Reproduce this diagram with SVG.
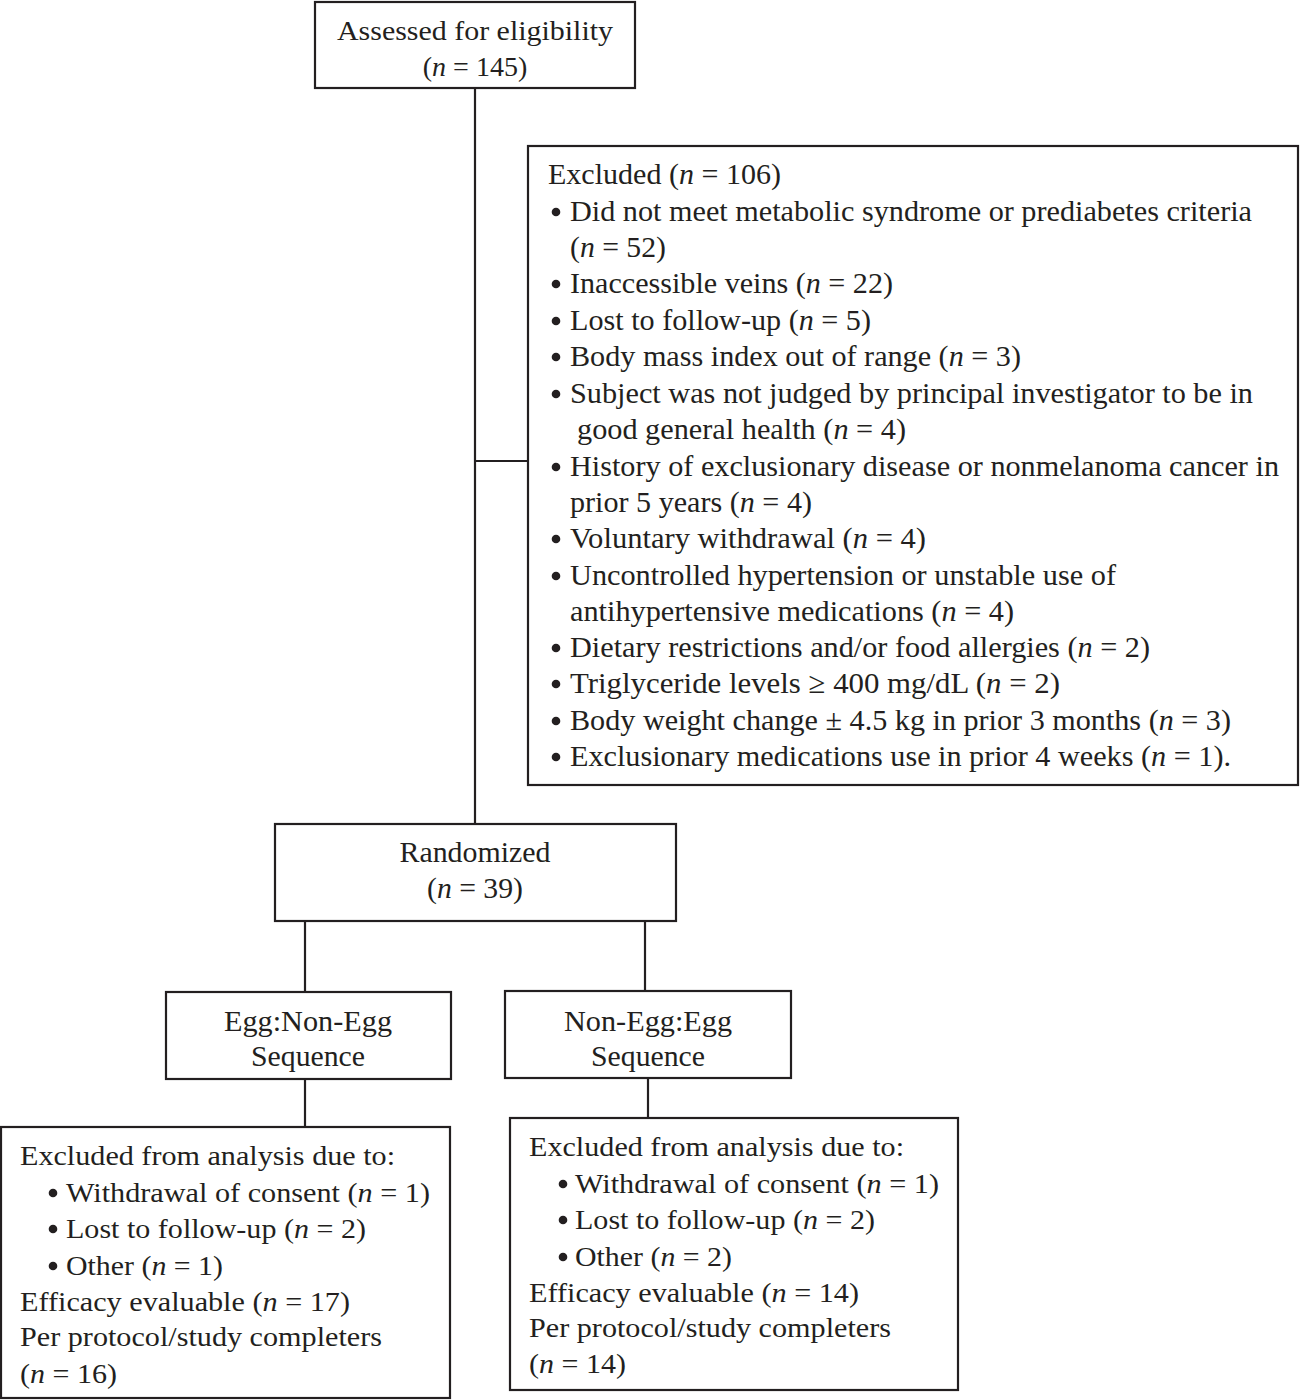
<svg xmlns="http://www.w3.org/2000/svg" width="1300" height="1400" viewBox="0 0 1300 1400" font-family="'Liberation Serif', 'Times New Roman', serif">
<style>
.box{fill:#fff;stroke:#231f20;stroke-width:2.2}
.ln{stroke:#231f20;stroke-width:2.2;fill:none}
.b{fill:#231f20}
text{font-family:"Liberation Serif","Times New Roman",serif;fill:#231f20;font-size:28px}
.c{font-size:30px}
.m{text-anchor:middle}
.i{font-style:italic}
</style>
<rect width="1300" height="1400" fill="#fff"/>
<g id="connectors">
<path class="ln" d="M475 88V824"/>
<path class="ln" d="M475 461H528"/>
<path class="ln" d="M305 921V992"/>
<path class="ln" d="M645 921V991"/>
<path class="ln" d="M305 1079V1127"/>
<path class="ln" d="M648 1078V1118"/>
</g>
<g id="assessed">
<rect class="box" x="315" y="2" width="320" height="86"/>
<text class="m" x="475" y="40" textLength="276" lengthAdjust="spacingAndGlyphs">Assessed for eligibility</text>
<text class="m" x="475" y="76">(<tspan class="i">n</tspan> = 145)</text>
</g>
<g id="excluded">
<rect class="box" x="528" y="146" width="770" height="639"/>
<text class="c" x="548" y="184" textLength="233" lengthAdjust="spacingAndGlyphs">Excluded (<tspan class="i">n</tspan> = 106)</text>
<g class="b">
<circle cx="556" cy="212" r="4.3"/>
<circle cx="556" cy="284" r="4.3"/>
<circle cx="556" cy="321" r="4.3"/>
<circle cx="556" cy="357" r="4.3"/>
<circle cx="556" cy="394" r="4.3"/>
<circle cx="556" cy="467" r="4.3"/>
<circle cx="556" cy="539" r="4.3"/>
<circle cx="556" cy="576" r="4.3"/>
<circle cx="556" cy="648" r="4.3"/>
<circle cx="556" cy="684" r="4.3"/>
<circle cx="556" cy="721" r="4.3"/>
<circle cx="556" cy="757" r="4.3"/>
</g>
<text class="c" x="570" y="221" textLength="682" lengthAdjust="spacingAndGlyphs">Did not meet metabolic syndrome or prediabetes criteria</text>
<text class="c" x="570" y="257" textLength="96" lengthAdjust="spacingAndGlyphs">(<tspan class="i">n</tspan> = 52)</text>
<text class="c" x="570" y="293" textLength="323" lengthAdjust="spacingAndGlyphs">Inaccessible veins (<tspan class="i">n</tspan> = 22)</text>
<text class="c" x="570" y="330" textLength="301" lengthAdjust="spacingAndGlyphs">Lost to follow-up (<tspan class="i">n</tspan> = 5)</text>
<text class="c" x="570" y="366" textLength="451" lengthAdjust="spacingAndGlyphs">Body mass index out of range (<tspan class="i">n</tspan> = 3)</text>
<text class="c" x="570" y="403" textLength="683" lengthAdjust="spacingAndGlyphs">Subject was not judged by principal investigator to be in</text>
<text class="c" x="577" y="439" textLength="329" lengthAdjust="spacingAndGlyphs">good general health (<tspan class="i">n</tspan> = 4)</text>
<text class="c" x="570" y="476" textLength="709" lengthAdjust="spacingAndGlyphs">History of exclusionary disease or nonmelanoma cancer in</text>
<text class="c" x="570" y="512" textLength="242" lengthAdjust="spacingAndGlyphs">prior 5 years (<tspan class="i">n</tspan> = 4)</text>
<text class="c" x="570" y="548" textLength="356" lengthAdjust="spacingAndGlyphs">Voluntary withdrawal (<tspan class="i">n</tspan> = 4)</text>
<text class="c" x="570" y="585" textLength="546" lengthAdjust="spacingAndGlyphs">Uncontrolled hypertension or unstable use of</text>
<text class="c" x="570" y="621" textLength="444" lengthAdjust="spacingAndGlyphs">antihypertensive medications (<tspan class="i">n</tspan> = 4)</text>
<text class="c" x="570" y="657" textLength="580" lengthAdjust="spacingAndGlyphs">Dietary restrictions and/or food allergies (<tspan class="i">n</tspan> = 2)</text>
<text class="c" x="570" y="693" textLength="490" lengthAdjust="spacingAndGlyphs">Triglyceride levels  ≥ 400 mg/dL (<tspan class="i">n</tspan> = 2)</text>
<text class="c" x="570" y="730" textLength="661" lengthAdjust="spacingAndGlyphs">Body weight change ± 4.5 kg in prior 3 months (<tspan class="i">n</tspan> = 3)</text>
<text class="c" x="570" y="766" textLength="661" lengthAdjust="spacingAndGlyphs">Exclusionary medications use in prior 4 weeks (<tspan class="i">n</tspan> = 1).</text>
</g>
<g id="randomized">
<rect class="box" x="275" y="824" width="401" height="97"/>
<text class="c m" x="475" y="862" textLength="151" lengthAdjust="spacingAndGlyphs">Randomized</text>
<text class="c m" x="475" y="898" textLength="96" lengthAdjust="spacingAndGlyphs">(<tspan class="i">n</tspan> = 39)</text>
</g>
<g id="egg-nonegg">
<rect class="box" x="166" y="992" width="285" height="87"/>
<text class="c m" x="308" y="1031" textLength="168" lengthAdjust="spacingAndGlyphs">Egg:Non-Egg</text>
<text class="c m" x="308" y="1066" textLength="114" lengthAdjust="spacingAndGlyphs">Sequence</text>
</g>
<g id="nonegg-egg">
<rect class="box" x="505" y="991" width="286" height="87"/>
<text class="c m" x="648" y="1031" textLength="168" lengthAdjust="spacingAndGlyphs">Non-Egg:Egg</text>
<text class="c m" x="648" y="1066" textLength="114" lengthAdjust="spacingAndGlyphs">Sequence</text>
</g>
<g id="analysis-left">
<rect class="box" x="1" y="1127" width="449" height="271"/>
<text x="20" y="1165" textLength="375" lengthAdjust="spacingAndGlyphs">Excluded from analysis due to:</text>
<g class="b">
<circle cx="53" cy="1193" r="4.3"/>
<circle cx="53" cy="1229" r="4.3"/>
<circle cx="53" cy="1266" r="4.3"/>
</g>
<text x="66" y="1202" textLength="364" lengthAdjust="spacingAndGlyphs">Withdrawal of consent (<tspan class="i">n</tspan> = 1)</text>
<text x="66" y="1238" textLength="300" lengthAdjust="spacingAndGlyphs">Lost to follow-up (<tspan class="i">n</tspan> = 2)</text>
<text x="66" y="1275" textLength="157" lengthAdjust="spacingAndGlyphs">Other (<tspan class="i">n</tspan> = 1)</text>
<text x="20" y="1311" textLength="330" lengthAdjust="spacingAndGlyphs">Efficacy evaluable (<tspan class="i">n</tspan> = 17)</text>
<text x="20" y="1346" textLength="362" lengthAdjust="spacingAndGlyphs">Per protocol/study completers</text>
<text x="20" y="1383" textLength="97" lengthAdjust="spacingAndGlyphs">(<tspan class="i">n</tspan> = 16)</text>
</g>
<g id="analysis-right">
<rect class="box" x="510" y="1118" width="448" height="272"/>
<text x="529" y="1156" textLength="375" lengthAdjust="spacingAndGlyphs">Excluded from analysis due to:</text>
<g class="b">
<circle cx="563" cy="1184" r="4.3"/>
<circle cx="563" cy="1220" r="4.3"/>
<circle cx="563" cy="1257" r="4.3"/>
</g>
<text x="575" y="1193" textLength="364" lengthAdjust="spacingAndGlyphs">Withdrawal of consent (<tspan class="i">n</tspan> = 1)</text>
<text x="575" y="1229" textLength="300" lengthAdjust="spacingAndGlyphs">Lost to follow-up (<tspan class="i">n</tspan> = 2)</text>
<text x="575" y="1266" textLength="157" lengthAdjust="spacingAndGlyphs">Other (<tspan class="i">n</tspan> = 2)</text>
<text x="529" y="1302" textLength="330" lengthAdjust="spacingAndGlyphs">Efficacy evaluable (<tspan class="i">n</tspan> = 14)</text>
<text x="529" y="1337" textLength="362" lengthAdjust="spacingAndGlyphs">Per protocol/study completers</text>
<text x="529" y="1373" textLength="97" lengthAdjust="spacingAndGlyphs">(<tspan class="i">n</tspan> = 14)</text>
</g>
</svg>
